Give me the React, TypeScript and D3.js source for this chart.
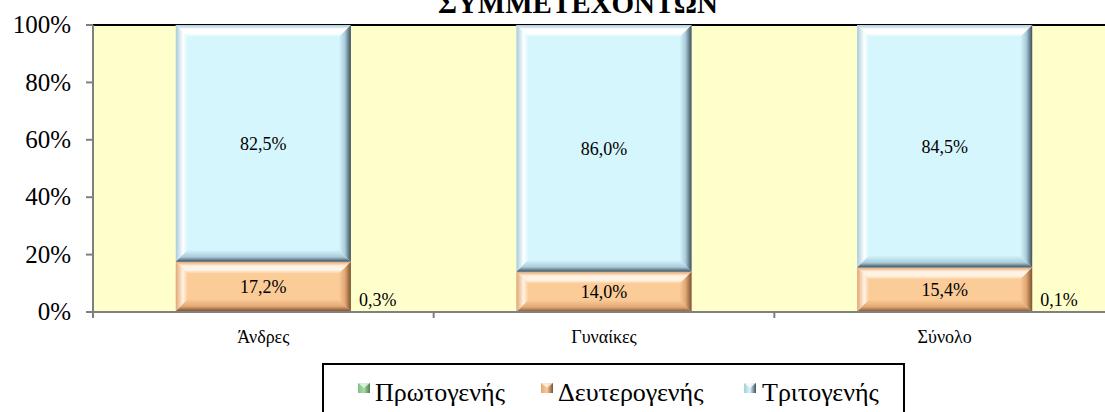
import React from "react";
import * as d3 from "d3";

const categories = ["Άνδρες", "Γυναίκες", "Σύνολο"];
const seriesNames = ["Πρωτογενής", "Δευτερογενής", "Τριτογενής"];
const primary = [0.3, 0.0, 0.1];
const secondary = [17.2, 14.0, 15.4];
const tertiary = [82.5, 86.0, 84.5];
const yTicks = [0, 20, 40, 60, 80, 100];
const titleText = "ΣΥΜΜΕΤΕΧΟΝΤΩΝ";

const palettes = [
  { face: "#A8DCA8", light: "#E6F7E6", mid: "#7FBF82", dark: "#4E7A50" },
  { face: "#FBCB98", light: "#FFF3E4", mid: "#E2A874", dark: "#7A5330" },
  { face: "#D6F6FD", light: "#FFFFFF", mid: "#A9CCDB", dark: "#3F4D57" },
];

const W = 1105;
const H = 412;
const left = 93;
const right = 1115;
const top = 25;
const bottom = 312;
const FONT = "'Liberation Serif', 'Times New Roman', serif";

function fmt(v: number) {
  return v.toFixed(1).replace(".", ",") + "%";
}

function Bevel({ x, y, w, h, p, id }: any) {
  const b = Math.min(12, h / 2.6, w / 4);
  if (h < 3) {
    return <rect x={x} y={y} width={w} height={h} fill={p.face} />;
  }
  return (
    <g>
      <rect x={x} y={y} width={w} height={h} fill={p.face} />
      <polygon
        points={`${x},${y} ${x + w},${y} ${x + w - b},${y + b} ${x + b},${y + b}`}
        fill={`url(#${id}-top)`}
      />
      <polygon
        points={`${x},${y} ${x + b},${y + b} ${x + b},${y + h - b} ${x},${y + h}`}
        fill={`url(#${id}-left)`}
      />
      <polygon
        points={`${x + w},${y} ${x + w - b},${y + b} ${x + w - b},${y + h - b} ${x + w},${y + h}`}
        fill={`url(#${id}-right)`}
      />
      <polygon
        points={`${x},${y + h} ${x + b},${y + h - b} ${x + w - b},${y + h - b} ${x + w},${y + h}`}
        fill={`url(#${id}-bottom)`}
      />
    </g>
  );
}

export default function App() {
  const x = d3.scaleBand<string>().domain(categories).range([left, right]).padding(0);
  const y = d3.scaleLinear().domain([0, 100]).range([bottom, top]);
  const barW = x.bandwidth() * 0.514;

  const rows = categories.map((c, i) => ({
    cat: c,
    [seriesNames[0]]: primary[i],
    [seriesNames[1]]: secondary[i],
    [seriesNames[2]]: tertiary[i],
  }));
  const stacked = d3.stack<any>().keys(seriesNames)(rows);

  const legendItems = [
    { name: seriesNames[0], mx: 358, tx: 375 },
    { name: seriesNames[1], mx: 541, tx: 558 },
    { name: seriesNames[2], mx: 744, tx: 762 },
  ];

  return (
    <svg
      width={W}
      height={H}
      style={{ position: "absolute", left: 0, top: 0, background: "#fff" }}
      fontFamily={FONT}
    >
      <defs>
        {palettes.map((p, i) => (
          <React.Fragment key={i}>
            <linearGradient id={`s${i}-top`} x1="0" y1="0" x2="0" y2="1">
              <stop offset="0" stopColor={p.mid} />
              <stop offset="0.35" stopColor={p.light} />
              <stop offset="0.7" stopColor={p.light} />
              <stop offset="1" stopColor={p.face} />
            </linearGradient>
            <linearGradient id={`s${i}-left`} x1="0" y1="0" x2="1" y2="0">
              <stop offset="0" stopColor={p.mid} />
              <stop offset="0.6" stopColor={p.light} />
              <stop offset="1" stopColor={p.face} />
            </linearGradient>
            <linearGradient id={`s${i}-right`} x1="0" y1="0" x2="1" y2="0">
              <stop offset="0" stopColor={p.face} />
              <stop offset="0.5" stopColor={p.mid} />
              <stop offset="1" stopColor={p.dark} />
            </linearGradient>
            <linearGradient id={`s${i}-bottom`} x1="0" y1="0" x2="0" y2="1">
              <stop offset="0" stopColor={p.face} />
              <stop offset="0.6" stopColor={p.mid} />
              <stop offset="1" stopColor={p.dark} />
            </linearGradient>
            <linearGradient id={`m${i}`} x1="0" y1="0" x2="1" y2="0">
              <stop offset="0" stopColor={p.mid} />
              <stop offset="0.5" stopColor={p.face} />
              <stop offset="1" stopColor={p.dark} />
            </linearGradient>
          </React.Fragment>
        ))}
      </defs>

      {/* title */}
      <text x={578} y={13} textAnchor="middle" fontWeight="bold" fontSize={29}>
        {titleText}
      </text>

      {/* plot background */}
      <rect x={left} y={top} width={right - left} height={bottom - top} fill="#FFFFCC" />
      <line x1={left} x2={right} y1={top} y2={top} stroke="#000" strokeWidth={2} />

      {/* bars */}
      {stacked.map((s, si) => (
        <g key={si}>
          {s.map((d, ci) => {
            const bx = (x(categories[ci]) as number) + (x.bandwidth() - barW) / 2;
            const y0 = y(d[1]);
            const y1 = y(d[0]);
            if (y1 - y0 <= 0) return null;
            return (
              <Bevel key={ci} x={bx} y={y0} w={barW} h={y1 - y0} p={palettes[si]} id={`s${si}`} />
            );
          })}
        </g>
      ))}

      {/* data labels */}
      {stacked.map((s, si) =>
        s.map((d, ci) => {
          const v = d[1] - d[0];
          if (v <= 0) return null;
          const cx = (x(categories[ci]) as number) + x.bandwidth() / 2;
          if (si === 0) {
            return (
              <text
                key={`${si}-${ci}`}
                x={cx + barW / 2 + 8}
                y={y(d[0])}
                dy={-6}
                fontSize={18}
                fill="#000"
              >
                {fmt(v)}
              </text>
            );
          }
          return (
            <text
              key={`${si}-${ci}`}
              x={cx}
              y={(y(d[0]) + y(d[1])) / 2}
              dy="0.35em"
              textAnchor="middle"
              fontSize={18}
              fill="#000"
            >
              {fmt(v)}
            </text>
          );
        })
      )}

      {/* axes */}
      <line x1={left} x2={left} y1={top} y2={bottom} stroke="#808080" strokeWidth={2} />
      <line x1={left} x2={right} y1={bottom} y2={bottom} stroke="#808080" strokeWidth={2} />
      {yTicks.map((t) => (
        <g key={t}>
          <line x1={left - 7} x2={left} y1={y(t)} y2={y(t)} stroke="#808080" strokeWidth={2} />
          <text x={71} y={y(t)} dy="0.33em" textAnchor="end" fontSize={25}>
            {t + "%"}
          </text>
        </g>
      ))}
      {categories.map((c) => (
        <g key={c}>
          <line
            x1={x(c) as number}
            x2={x(c) as number}
            y1={bottom}
            y2={bottom + 6}
            stroke="#808080"
            strokeWidth={2}
          />
          <text
            x={(x(c) as number) + x.bandwidth() / 2}
            y={343}
            textAnchor="middle"
            fontSize={18}
          >
            {c}
          </text>
        </g>
      ))}

      {/* legend */}
      <rect x={323} y={364} width={581} height={60} fill="#fff" stroke="#000" strokeWidth={2} />
      {legendItems.map((it, i) => {
        const p = palettes[i];
        const mx = it.mx;
        const my = 383;
        const s = 12;
        return (
          <g key={it.name}>
            <rect x={mx} y={my} width={s} height={s - 2} fill={`url(#m${i})`} />
            <polygon
              points={`${mx},${my} ${mx + s},${my} ${mx + s / 2},${my + (s - 2) / 2}`}
              fill={p.light}
              opacity={0.8}
            />
            <text x={it.tx} y={401} fontSize={26}>
              {it.name}
            </text>
          </g>
        );
      })}
    </svg>
  );
}
